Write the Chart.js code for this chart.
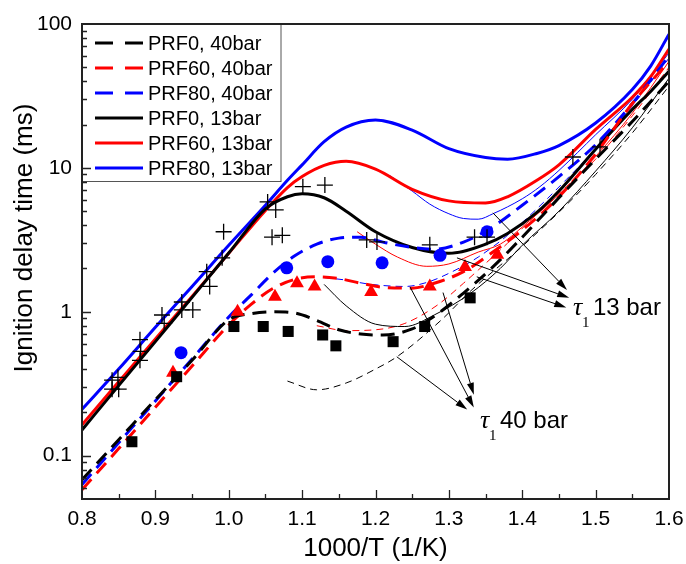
<!DOCTYPE html>
<html>
<head>
<meta charset="utf-8">
<script src="https://cdn.jsdelivr.net/npm/chart.js@4.4.1/dist/chart.umd.min.js"></script>
<style>
  html, body { margin: 0; padding: 0; background: #fff; }
</style>
</head>
<body>
<canvas id="ignition_chart" width="686" height="564"></canvas>
<script>
// axis ticks
const xTicks = [0.8, 0.9, 1.0, 1.1, 1.2, 1.3, 1.4, 1.5, 1.6]
const yTicks = [0.1, 1, 10, 100]

// 13 bar model, thick solid lines
const x13 = [0.80, 0.85, 0.90, 0.95, 1.00, 1.05, 1.08, 1.10, 1.13, 1.16, 1.20, 1.25, 1.30, 1.35, 1.38, 1.42, 1.45, 1.50, 1.55, 1.575, 1.60]
const prf0_13 = [0.151, 0.307, 0.62, 1.26, 2.56, 5.2, 6.3, 6.6, 6.2, 5.0, 3.6, 2.8, 2.55, 2.95, 3.5, 4.9, 6.9, 13.5, 25.5, 34, 47]
const prf60_13 = [0.164, 0.326, 0.647, 1.28, 2.55, 5.06, 7.3, 8.7, 10.4, 11.1, 9.8, 7.1, 5.9, 5.7, 6.3, 8.2, 10.5, 18.5, 31, 43, 67]
const prf80_13 = [0.21, 0.40, 0.78, 1.5, 2.9, 5.5, 8.2, 10.5, 15.2, 19.2, 21.5, 18.3, 13.6, 11.8, 11.5, 12.6, 14.3, 20.5, 35, 51, 85]

// 40 bar model, thick dashed lines
const x40 = [0.80, 0.85, 0.90, 0.95, 1.00, 1.03, 1.06, 1.09, 1.12, 1.15, 1.18, 1.21, 1.25, 1.28, 1.32, 1.36, 1.40, 1.45, 1.50, 1.55, 1.60]
const prf0_40 = [0.068, 0.129, 0.245, 0.46, 0.88, 0.97, 1.0, 0.98, 0.87, 0.75, 0.70, 0.69, 0.76, 0.93, 1.35, 2.05, 3.3, 6.2, 11.5, 21, 40]
const prf60_40 = [0.058, 0.112, 0.217, 0.42, 0.81, 1.12, 1.45, 1.68, 1.75, 1.70, 1.58, 1.48, 1.46, 1.58, 1.9, 2.6, 3.7, 6.3, 12.5, 28, 55]
const prf80_40 = [0.063, 0.123, 0.24, 0.47, 0.92, 1.3, 1.85, 2.45, 2.95, 3.25, 3.3, 3.05, 2.8, 2.72, 3.05, 3.9, 5.5, 8.7, 14.5, 28, 60]

// first stage delay tau1, thin lines
const tau80_13x = [1.22, 1.25, 1.274, 1.30, 1.32, 1.34, 1.36, 1.40, 1.424, 1.45, 1.50, 1.55, 1.60]
const tau80_13y = [8.8, 6.9, 5.6, 4.8, 4.45, 4.4, 4.8, 6.1, 7.4, 9.6, 17, 30, 63]
const tau60_13x = [1.175, 1.20, 1.23, 1.27, 1.30, 1.34, 1.37, 1.41, 1.46, 1.50, 1.55, 1.60]
const tau60_13y = [3.6, 2.95, 2.4, 2.07, 2.15, 2.6, 2.95, 4.3, 7.3, 12, 24, 55]
const tau0_13x = [1.13, 1.16, 1.20, 1.24, 1.28, 1.33, 1.37, 1.40, 1.45, 1.50, 1.55, 1.60]
const tau0_13y = [1.55, 1.1, 0.82, 0.79, 0.95, 1.35, 2.0, 2.9, 5.0, 9.5, 19, 42]
const tau80_40x = [1.13, 1.16, 1.19, 1.24, 1.27, 1.30, 1.34, 1.38, 1.42, 1.46, 1.50, 1.55, 1.60]
const tau80_40y = [1.73, 1.66, 1.56, 1.5, 1.6, 1.85, 2.4, 3.4, 5.2, 8.3, 13.5, 27, 58]
const tau60_40x = [1.12, 1.16, 1.20, 1.24, 1.284, 1.32, 1.34, 1.38, 1.42, 1.46, 1.50, 1.55, 1.60]
const tau60_40y = [0.8, 0.74, 0.75, 0.83, 1.11, 1.58, 1.95, 3.0, 4.8, 7.4, 11.5, 23, 50]
const tau0_40x = [1.08, 1.12, 1.16, 1.20, 1.23, 1.29, 1.33, 1.40, 1.47, 1.50, 1.55, 1.60]
const tau0_40y = [0.33, 0.287, 0.32, 0.40, 0.49, 0.88, 1.4, 2.85, 6.2, 9.0, 17.5, 37]

// experiments
const expPrf0_40x = [0.868, 0.929, 1.007, 1.047, 1.081, 1.128, 1.146, 1.224, 1.267, 1.329]
const expPrf0_40y = [0.125, 0.354, 0.79, 0.79, 0.73, 0.69, 0.58, 0.62, 0.79, 1.25]
const expPrf60_40x = [0.924, 1.012, 1.063, 1.093, 1.117, 1.194, 1.274, 1.322, 1.366]
const expPrf60_40y = [0.377, 1.0, 1.27, 1.58, 1.5, 1.37, 1.5, 2.05, 2.49]
const expPrf80_40x = [0.935, 1.079, 1.135, 1.209, 1.288, 1.352]
const expPrf80_40y = [0.52, 2.02, 2.23, 2.19, 2.47, 3.6]
const exp13x = [0.841, 0.849, 0.841, 0.850, 0.879, 0.880, 0.879, 0.909, 0.912, 0.936, 0.936, 0.951, 0.970, 0.974, 0.991, 0.993,
                1.053, 1.064, 1.059, 1.073, 1.101, 1.131, 1.188, 1.202, 1.274, 1.335, 1.352, 1.469, 1.506]
const exp13y = [0.335, 0.35, 0.29, 0.29, 0.64, 0.53, 0.46, 0.95, 0.83, 1.17, 1.03, 1.03, 1.9, 1.5, 2.37, 3.6,
                5.8, 5.1, 3.3, 3.4, 7.4, 7.6, 3.16, 3.06, 2.92, 3.3, 3.3, 11.9, 14.0]

// annotations (data units)
const tauArrows13 = [[1.360, 4.87, 1.461, 1.42], [1.311, 2.37, 1.464, 1.25], [1.338, 1.75, 1.460, 1.07]]
const tauArrows40 = [[1.229, 0.487, 1.325, 0.209], [1.247, 1.49, 1.334, 0.216], [1.292, 1.36, 1.334, 0.265]]
const tauLabels = [{x: 1.469, y: 0.953, text: '13 bar'}, {x: 1.3424, y: 0.1564, text: '40 bar'}]

const SANS = "'Liberation Sans', Arial, sans-serif"
const SERIF = "'Liberation Serif', 'Times New Roman', serif"
const RED = '#ff0000'
const BLUE = '#0000ff'

function pts(xs, ys) {
    return xs.map((x, i) => ({x: x, y: ys[i]}))
}

function curve(xs, ys, color, width, dash) {
    return {data: pts(xs, ys), showLine: true, borderColor: color, backgroundColor: color,
        borderWidth: width, borderDash: dash, pointRadius: 0, cubicInterpolationMode: 'monotone'}
}

function marks(xs, ys, style, radius, color, bw) {
    return {data: pts(xs, ys), showLine: false, pointStyle: style, pointRadius: radius,
        pointBorderWidth: bw, borderColor: color, backgroundColor: color}
}

const thickDash = [14, 8]
const thinDash = [7, 5]

let datasets = [
    marks(exp13x, exp13y, 'cross', 8, '#000', 1.3),
    marks(expPrf0_40x, expPrf0_40y, 'rect', 7.8, '#000', 0),
    marks(expPrf60_40x, expPrf60_40y, 'triangle', 8, RED, 0),
    marks(expPrf80_40x, expPrf80_40y, 'circle', 6.5, BLUE, 0),
    curve(x40, prf0_40, '#000', 3, thickDash),
    curve(x40, prf60_40, RED, 3, thickDash),
    curve(x40, prf80_40, BLUE, 3, thickDash),
    curve(x13, prf0_13, '#000', 3, []),
    curve(x13, prf60_13, RED, 3, []),
    curve(x13, prf80_13, BLUE, 3, []),
    curve(tau0_13x, tau0_13y, '#000', 1, []),
    curve(tau60_13x, tau60_13y, RED, 1, []),
    curve(tau80_13x, tau80_13y, BLUE, 1, []),
    curve(tau0_40x, tau0_40y, '#000', 1, thinDash),
    curve(tau60_40x, tau60_40y, RED, 1, thinDash),
    curve(tau80_40x, tau80_40y, BLUE, 1, thinDash)
]

const legendItems = [
    {label: 'PRF0, 40bar', color: '#000', dash: [18, 12]},
    {label: 'PRF60, 40bar', color: RED, dash: [18, 12]},
    {label: 'PRF80, 40bar', color: BLUE, dash: [18, 12]},
    {label: 'PRF0, 13bar', color: '#000', dash: []},
    {label: 'PRF60, 13bar', color: RED, dash: []},
    {label: 'PRF80, 13bar', color: BLUE, dash: []}
]

function drawArrow(ctx, x1, y1, x2, y2) {
    let a = Math.atan2(y2 - y1, x2 - x1)
    let hl = 12, hw = 3.5
    let bx = x2 - hl * Math.cos(a), by = y2 - hl * Math.sin(a)
    ctx.beginPath()
    ctx.moveTo(x1, y1)
    ctx.lineTo(bx, by)
    ctx.stroke()
    ctx.beginPath()
    ctx.moveTo(x2, y2)
    ctx.lineTo(bx + hw * Math.sin(a), by - hw * Math.cos(a))
    ctx.lineTo(bx - hw * Math.sin(a), by + hw * Math.cos(a))
    ctx.closePath()
    ctx.fill()
}

const decorations = {
    id: 'decorations',
    afterDraw(chart) {
        let ctx = chart.ctx
        let area = chart.chartArea
        let xs = chart.scales.x, ys = chart.scales.y
        ctx.save()

        // legend box
        ctx.fillStyle = '#fff'
        ctx.strokeStyle = '#555'
        ctx.lineWidth = 1
        ctx.fillRect(area.left, area.top, 199, 157)
        ctx.strokeRect(area.left + 0.5, area.top + 0.5, 198.5, 157)
        ctx.font = '20px ' + SANS
        ctx.textBaseline = 'middle'
        legendItems.forEach((it, i) => {
            let y = area.top + 19 + i * 25
            ctx.strokeStyle = it.color
            ctx.lineWidth = 3
            ctx.setLineDash(it.dash)
            ctx.beginPath()
            ctx.moveTo(area.left + 13, y)
            ctx.lineTo(area.left + 61, y)
            ctx.stroke()
            ctx.setLineDash([])
            ctx.fillStyle = '#000'
            ctx.fillText(it.label, area.left + 66, y + 1)
        })

        // frame
        ctx.strokeStyle = '#222'
        ctx.lineWidth = 2
        ctx.strokeRect(area.left, area.top, area.right - area.left, area.bottom - area.top)

        // inward ticks
        ctx.lineWidth = 1.3
        ctx.beginPath()
        for (let k = -2; k <= 1; k++) {
            for (let m = 1; m <= 9; m++) {
                let v = m * Math.pow(10, k)
                if (v <= 0.05 || v >= 100) continue
                let py = Math.round(ys.getPixelForValue(v)) + 0.5
                ctx.moveTo(area.left, py)
                ctx.lineTo(area.left + (m === 1 ? 9 : 5), py)
            }
        }
        for (let i = 1; i < 16; i++) {
            let v = 0.8 + i * 0.05
            let px = Math.round(xs.getPixelForValue(v)) + 0.5
            ctx.moveTo(px, area.bottom)
            ctx.lineTo(px, area.bottom - (i % 2 === 0 ? 9 : 5))
        }
        ctx.stroke()

        // y title
        ctx.save()
        ctx.translate(25, 238)
        ctx.rotate(-Math.PI / 2)
        ctx.font = '26px ' + SANS
        ctx.textAlign = 'center'
        ctx.textBaseline = 'middle'
        ctx.fillStyle = '#000'
        ctx.fillText('Ignition delay time (ms)', 0, 0)
        ctx.restore()

        // tau1 arrows
        ctx.strokeStyle = '#000'
        ctx.fillStyle = '#000'
        ctx.lineWidth = 1
        tauArrows13.concat(tauArrows40).forEach(a => {
            drawArrow(ctx, xs.getPixelForValue(a[0]), ys.getPixelForValue(a[1]),
                xs.getPixelForValue(a[2]), ys.getPixelForValue(a[3]))
        })

        // tau1 labels
        ctx.textBaseline = 'alphabetic'
        ctx.textAlign = 'left'
        tauLabels.forEach(l => {
            let px = xs.getPixelForValue(l.x), py = ys.getPixelForValue(l.y)
            ctx.font = 'italic 26px ' + SERIF
            ctx.fillText('\u03c4', px, py)
            ctx.font = '15px ' + SERIF
            ctx.fillText('1', px + 9, py + 12)
            ctx.font = '24px ' + SANS
            ctx.fillText(l.text, px + 20, py)
        })
        ctx.restore()
    }
}

let ctx = document.getElementById('ignition_chart').getContext('2d')
let chart = new Chart(ctx, {
    type: 'scatter',
    data: {datasets: datasets},
    options: {
        responsive: false,
        animation: false,
        devicePixelRatio: 1,
        layout: {padding: {left: 0, right: 17, top: 24, bottom: 0}},
        plugins: {legend: {display: false}, tooltip: {enabled: false}},
        scales: {
            x: {
                type: 'linear', min: 0.8, max: 1.6,
                grid: {display: false, drawTicks: false},
                border: {display: false},
                afterBuildTicks: s => { s.ticks = xTicks.map(v => ({value: v})) },
                afterFit: s => { s.height = 65; s.paddingLeft = 0; s.paddingRight = 0 },
                ticks: {font: {family: SANS, size: 21}, color: '#000', padding: 8, maxRotation: 0, autoSkip: false,
                    callback: v => v.toFixed(1)},
                title: {display: true, text: '1000/T (1/K)', color: '#000', font: {family: SANS, size: 26}, padding: {top: 0, bottom: 0}}
            },
            y: {
                type: 'logarithmic', min: 0.05, max: 100,
                grid: {display: false, drawTicks: false},
                border: {display: false},
                afterBuildTicks: s => { s.ticks = yTicks.map(v => ({value: v})) },
                afterFit: s => { s.width = 82; s.paddingTop = 0; s.paddingBottom = 0 },
                ticks: {font: {family: SANS, size: 21}, color: '#000', padding: 10, autoSkip: false,
                    callback: v => String(v)}
            }
        }
    },
    plugins: [decorations]
})
</script>
</body>
</html>
